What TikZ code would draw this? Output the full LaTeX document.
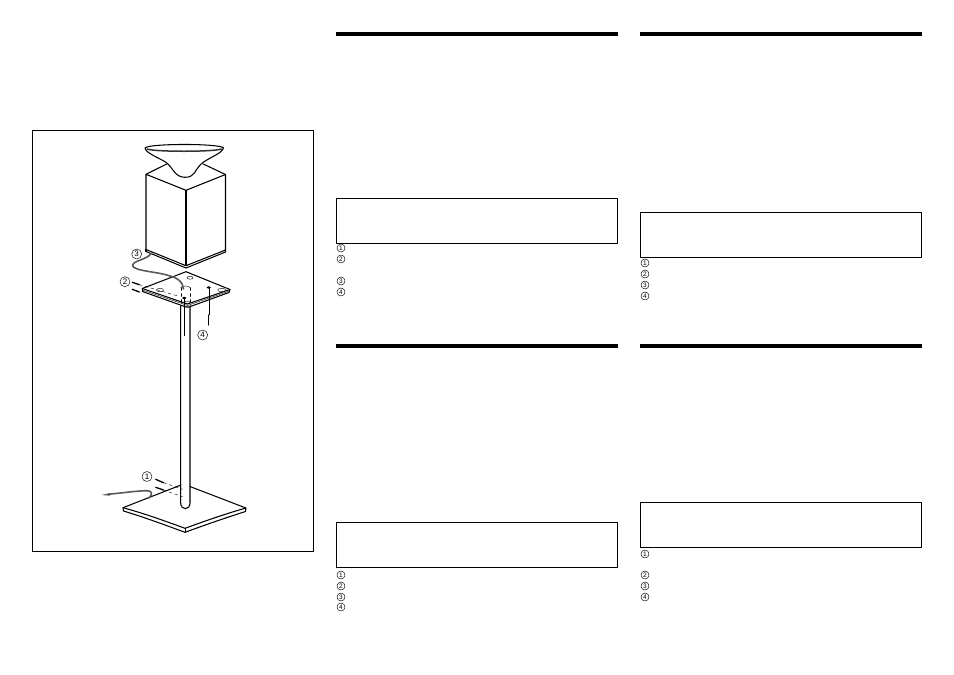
\documentclass[tikz,border=0pt]{standalone}
\usepackage{fontspec}
\setmainfont{Liberation Sans}
\begin{document}
\begin{tikzpicture}[x=1pt,y=-1pt,line join=round,line cap=round]
  \tikzstyle{every path}=[line width=1.05pt]
  \tikzstyle{num}=[circle,draw,line width=0.45pt,inner sep=0pt,minimum size=8pt,font=\fontsize{6.5}{6.5}\selectfont]
  \tikzstyle{callout}=[num,minimum size=10pt,font=\fontsize{8}{8}\selectfont]
  \tikzstyle{bar}=[fill=black,draw=none,minimum height=4pt,inner sep=0pt,outer sep=0pt,minimum width=282pt]
  \tikzstyle{notebox}=[draw,line width=0.9pt,minimum width=281pt,minimum height=45.5pt,inner sep=0pt]
  \tikzstyle{thinline}=[line width=0.4pt]
  \tikzstyle{fastener}=[line width=1.3pt]
  \tikzstyle{cable}=[line width=1.6pt,draw=black!65]

  \useasboundingbox (0,0) rectangle (954,675);
  \draw[line width=0.8pt] (32.5,130.5) rectangle (313.5,551.5);

  % columns
  \node[bar] (barA) at (477,34) {};
  \node[bar] (barB) at (781,34) {};
  \node[bar] (barC) at (477,346) {};
  \node[bar] (barD) at (781,346) {};
  \node[notebox] (boxA) at (476.8,220.8) {};
  \node[notebox] (boxB) at (780.8,234.8) {};
  \node[notebox] (boxC) at (476.8,544.8) {};
  \node[notebox] (boxD) at (780.8,524.8) {};

  \node[num] (a1) at (341,248) {1};
  \node[num] (a2) at (341,259) {2};
  \node[num] (a3) at (341,281) {3};
  \node[num] (a4) at (341,292) {4};
  \node[num] (b1) at (645,263) {1};
  \node[num] (b2) at (645,274) {2};
  \node[num] (b3) at (645,285) {3};
  \node[num] (b4) at (645,296) {4};
  \node[num] (c1) at (341,575) {1};
  \node[num] (c2) at (341,586) {2};
  \node[num] (c3) at (341,597) {3};
  \node[num] (c4) at (341,607) {4};
  \node[num] (d1) at (645,554) {1};
  \node[num] (d2) at (645,575) {2};
  \node[num] (d3) at (645,586) {3};
  \node[num] (d4) at (645,597) {4};

  % foot
  \draw (181,485) -- (123,507.7) -- (123.5,511) .. controls (145,517.5) and (165,525) .. (185,532.3) .. controls (205,525) and (225,518) .. (245.5,511.5) -- (245.9,508) -- (190,486.5);
  \draw (123,507.7) .. controls (145,513.7) and (165,521) .. (185,528.3) .. controls (205,521) and (225,514) .. (245.9,508);
  \draw[thinline] (185,528.3) -- (185,532.3);

  % pole
  \draw (180.7,306) -- (180.7,503) .. controls (180.7,510.5) and (190,510.5) .. (190,503) -- (190,306);

  % foot cable and screws
  \draw[cable] (108,494.3) .. controls (122,493) and (135,491) .. (146,490.7) .. controls (152.5,490.5) and (153,494) .. (149,498);
  \draw[fill=black!65,draw=none] (101.5,495) -- (110,493.1) -- (110,495.7) -- cycle;
  \coordinate (sA) at (155.7,479.3);
  \coordinate (sB) at (163.5,482.7);
  \coordinate (sC) at (182.5,489.3);
  \coordinate (sD) at (155.7,487.3);
  \coordinate (sE) at (163.5,490);
  \coordinate (sF) at (182.5,496.7);
  \draw[fastener] (sA) -- (sB);
  \draw[fastener] (sD) -- (sE);
  \draw[thinline,dashed] (sB) -- (sC);
  \draw[thinline,dashed] (sE) -- (sF);

  % plate
  \draw[fill=white] (186,271.7) -- (142.3,288.5) -- (142.5,291.5) -- (186,307) .. controls (187,307.5) and (188,307.5) .. (189,307) -- (229,292.5) -- (230,289.5) -- cycle;
  \draw (142.3,288.5) -- (187.5,304) -- (230,289.5);
  \draw[thinline] (142.4,290) -- (187.5,305.5) -- (229.5,291);
  \draw[dashed,thinline] (180.7,287.5) -- (180.7,306);
  \draw[dashed,thinline] (190,287.5) -- (190,306);
  \draw[thinline] (180.7,287.5) .. controls (182,285.5) and (188.7,285.5) .. (190,287.5);
  \draw[thinline] (190,277.7) ellipse (3pt and 1.5pt);
  \draw[thinline] (160,290) ellipse (3.5pt and 1.7pt);
  \draw[thinline] (221.7,290) ellipse (4pt and 1.7pt);
  \draw[thinline] (187,302.5) ellipse (3pt and 1.4pt);
  \draw[fill=black] (208.7,287.5) ellipse (1.5pt and 0.7pt);
  \draw[fill=black] (184.2,298) ellipse (1.5pt and 0.7pt);

  % plate screws
  \coordinate (tA) at (132.3,282.3);
  \coordinate (tB) at (139.3,284.7);
  \coordinate (tC) at (132.3,289.3);
  \coordinate (tD) at (139.3,292);
  \coordinate (tE) at (178,296);
  \coordinate (uA) at (208.7,288);
  \coordinate (uB) at (208.7,315);
  \coordinate (uC) at (208.7,325);
  \coordinate (uD) at (184.2,298);
  \coordinate (uE) at (184.2,326.7);
  \coordinate (uF) at (184.2,335.5);
  \draw[fastener] (tA) -- (tB);
  \draw[fastener] (tC) -- (tD);
  \draw[thinline,dashed] (tB) -- (tE);
  \draw[thinline] (uA) -- (uB);
  \draw[fastener] (uB) -- (uC);
  \draw[thinline] (uD) -- (uE);
  \draw[fastener] (uE) -- (uF);

  % cube
  \draw[fill=white] (146,174.3) -- (186,190.3) -- (225.5,174.5) -- (225.5,250) -- (186,265.7) -- (146,249.5) -- cycle;
  \draw (186,190.3) -- (186,265.7);
  \draw (146,251.5) -- (186,268) -- (225.5,252) -- (225.5,250);
  \draw (146,249.5) -- (146,251.5);
  \draw (146,174.3) -- (166.7,164);
  \draw (225.5,174.5) -- (203.3,164);

  % horn
  \draw[fill=white] (145,148) .. controls (146,153) and (157,157) .. (165,161.7) .. controls (173,166.5) and (174,177.3) .. (185,177.3) .. controls (195,177.3) and (195,170) .. (200,165) .. controls (207,158) and (222,154) .. (223.5,148) .. controls (221,143.3) and (148,143.3) .. (145,148) -- cycle;
  \draw[line width=1.5pt,draw=black!80] (147,149) .. controls (155,152) and (213,152) .. (221.5,149);

  % speaker cable
  \draw[cable] (151.7,253) .. controls (147,260) and (131,261) .. (132.7,266) .. controls (134,271) and (160,272) .. (170,276) .. controls (178,278) and (183,282) .. (183.5,289);

  \node[callout] (lab1) at (147,476.5) {1};
  \node[callout] (lab2) at (125,281.7) {2};
  \node[callout] (lab3) at (136.7,254) {3};
  \node[callout] (lab4) at (202.7,335) {4};

\end{tikzpicture}
\end{document}
